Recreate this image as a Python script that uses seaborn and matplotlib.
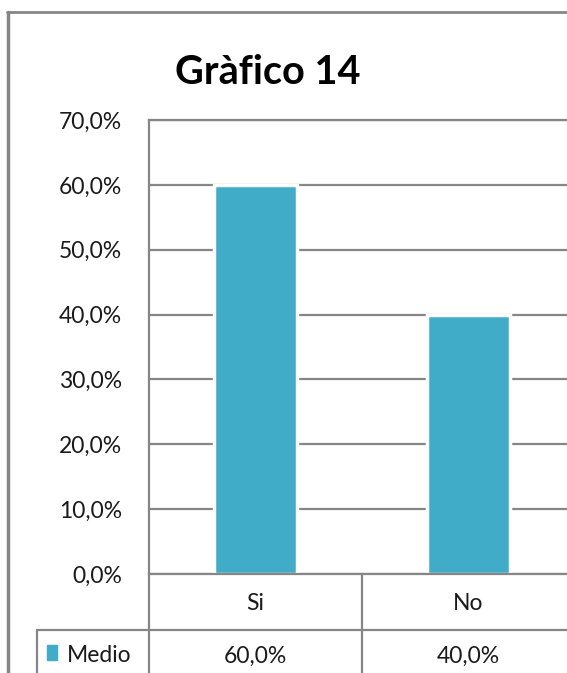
import matplotlib
matplotlib.use("Agg")
import matplotlib.pyplot as plt
import seaborn as sns
from matplotlib.lines import Line2D
from matplotlib.patches import Rectangle

categories = ["Si", "No"]
values = [60.0, 40.0]
series_name = "Medio"
y_ticks = [0, 10, 20, 30, 40, 50, 60, 70]
title = "Gràfico 14"

bar_color = "#41acc8"
line_gray = "#868686"
text_color = "#1a1a1a"

sns.set_theme(style="white")
plt.rcParams["font.family"] = ["Lato", "DejaVu Sans"]

W, H = 567, 673
fig = plt.figure(figsize=(W / 100, H / 100), dpi=100)


def px(x, y):
    # pixel (top-left origin) -> figure fraction
    return x / W, 1 - y / H


# plot area: x 149..575, y 120..574 (pixels)
left, top, right, bottom = 149, 120, 575, 574
ax = fig.add_axes([left / W, 1 - bottom / H, (right - left) / W, (bottom - top) / H])

sns.barplot(x=categories, y=values, color=bar_color, width=0.39,
            edgecolor="white", linewidth=2.5, saturation=1, ax=ax)
ax.set_xlim(-0.5, 1.5)
ax.set_ylim(0, 70)
ax.set_yticks(y_ticks)
ax.set_yticklabels([f"{t:.1f}%".replace(".", ",") for t in y_ticks],
                   fontsize=16.5, color=text_color)
ax.tick_params(axis="y", length=0, pad=19.5)
ax.tick_params(axis="x", length=0, pad=14, labelsize=16.5, labelcolor=text_color)
ax.yaxis.grid(True, color=line_gray, linewidth=1.6)
ax.set_axisbelow(True)
for s in ["top", "left", "bottom"]:
    ax.spines[s].set_color(line_gray)
    ax.spines[s].set_linewidth(1.6)
ax.spines["right"].set_visible(False)
ax.set_xlabel("")
ax.set_ylabel("")

fig.text(*px(268, 72), title, fontsize=28.5, fontweight="bold",
         ha="center", va="center", color="#000000")


def hline(x0, x1, y, lw=1.6):
    (a, b), (c, d) = px(x0, y), px(x1, y)
    fig.add_artist(Line2D([a, c], [b, d], color=line_gray, linewidth=lw))


def vline(x, y0, y1, lw=1.6):
    (a, b), (c, d) = px(x, y0), px(x, y1)
    fig.add_artist(Line2D([a, c], [b, d], color=line_gray, linewidth=lw))


# outer chart frame
hline(7, W, 12, lw=2)
vline(8, 12, H, lw=2.5)

# data table
vline(149, 574, H)
vline(362, 574, H)
hline(37, W, 630)
vline(37, 630, H)

sx, sy = px(47, 660)
fig.add_artist(Rectangle((sx, sy), 10 / W, 15 / H, color=bar_color,
                         transform=fig.transFigure))
fig.text(*px(67, 655), series_name, fontsize=16.5, ha="left", va="center",
         color=text_color)
centers = [255.5, 468.5]
for cx, v in zip(centers, values):
    fig.text(*px(cx, 656), f"{v:.1f}%".replace(".", ","), fontsize=16.5,
             ha="center", va="center", color=text_color)

fig.savefig("out.png", dpi=100, facecolor="white")
